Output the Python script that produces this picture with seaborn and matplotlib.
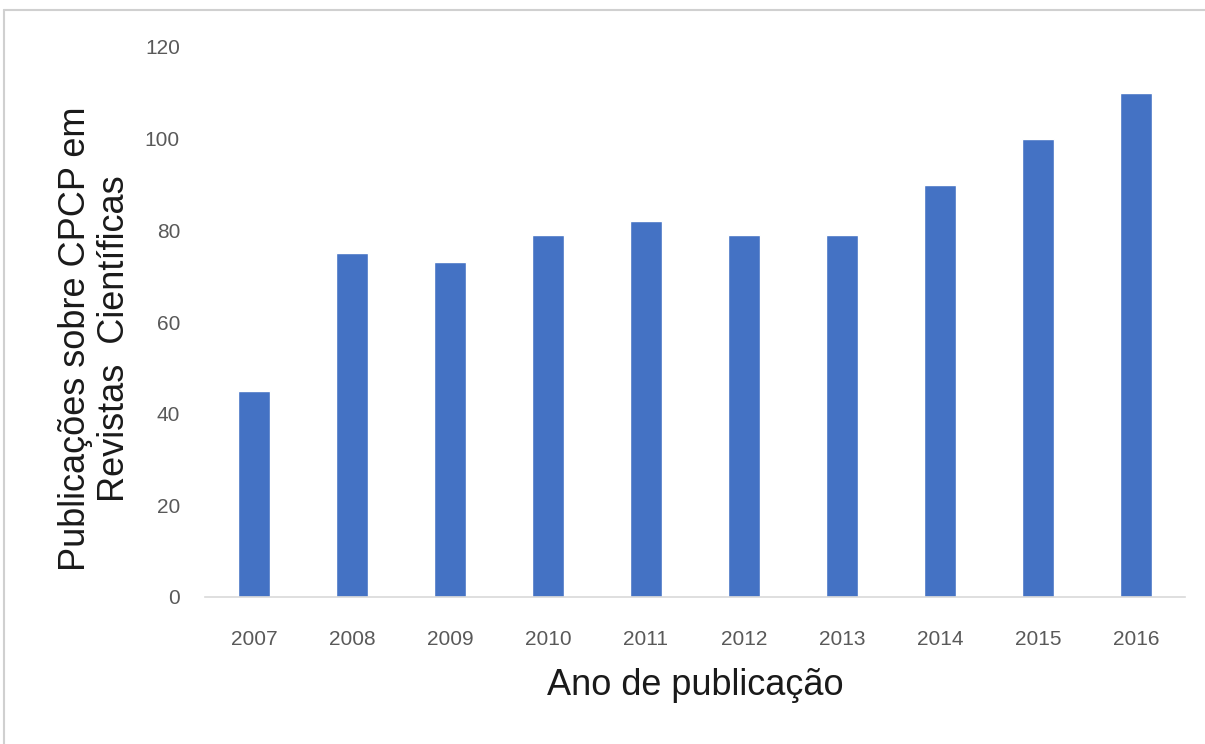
import matplotlib
matplotlib.use("Agg")
import matplotlib.pyplot as plt
import seaborn as sns
import pandas as pd
from matplotlib.lines import Line2D

years = ["2007", "2008", "2009", "2010", "2011", "2012", "2013", "2014", "2015", "2016"]
counts = [45, 75, 73, 79, 82, 79, 79, 90, 100, 110]
yticks = [0, 20, 40, 60, 80, 100, 120]

sns.set_theme(style="white")
plt.rcParams['font.family'] = ['Liberation Sans', 'DejaVu Sans']

df = pd.DataFrame({"Ano": years, "Publicacoes": counts})

fig = plt.figure(figsize=(12.05, 7.44), dpi=100)
ax = fig.add_axes([205/1205, 1 - 597/744, 980/1205, 550/744])

sns.barplot(data=df, x="Ano", y="Publicacoes", color="#4472C4", width=0.33,
            saturation=1, ax=ax)

ax.set_ylim(0, 120)
ax.set_xlim(-0.5, len(years) - 0.5)
ax.set_yticks(yticks)
ax.set_yticklabels([str(t) for t in yticks])
ax.tick_params(axis="both", length=0, labelsize=15, labelcolor="#595959")
ax.tick_params(axis="y", pad=18)
ax.tick_params(axis="x", pad=24)
for s in ["top", "right", "left"]:
    ax.spines[s].set_visible(False)
ax.spines["bottom"].set_color("#D9D9D9")
ax.spines["bottom"].set_linewidth(1.2)

ax.set_xlabel("Ano de publicação", fontsize=26, color="#1a1a1a")
ax.xaxis.set_label_coords(0.5, (597 - 668) / 550)
ax.set_ylabel("Publicações sobre CPCP em\nRevistas  Científicas", fontsize=26,
              color="#1a1a1a", linespacing=1.15)
ax.yaxis.set_label_coords((132 - 205) / 980, 0.47)

fig.add_artist(Line2D([4/1205, 4/1205], [0, 1 - 10/744], transform=fig.transFigure,
                      color="#D0D0D0", linewidth=1.5))
fig.add_artist(Line2D([4/1205, 1], [1 - 10/744, 1 - 10/744], transform=fig.transFigure,
                      color="#D0D0D0", linewidth=1.5))

fig.savefig("out.png", dpi=100)
